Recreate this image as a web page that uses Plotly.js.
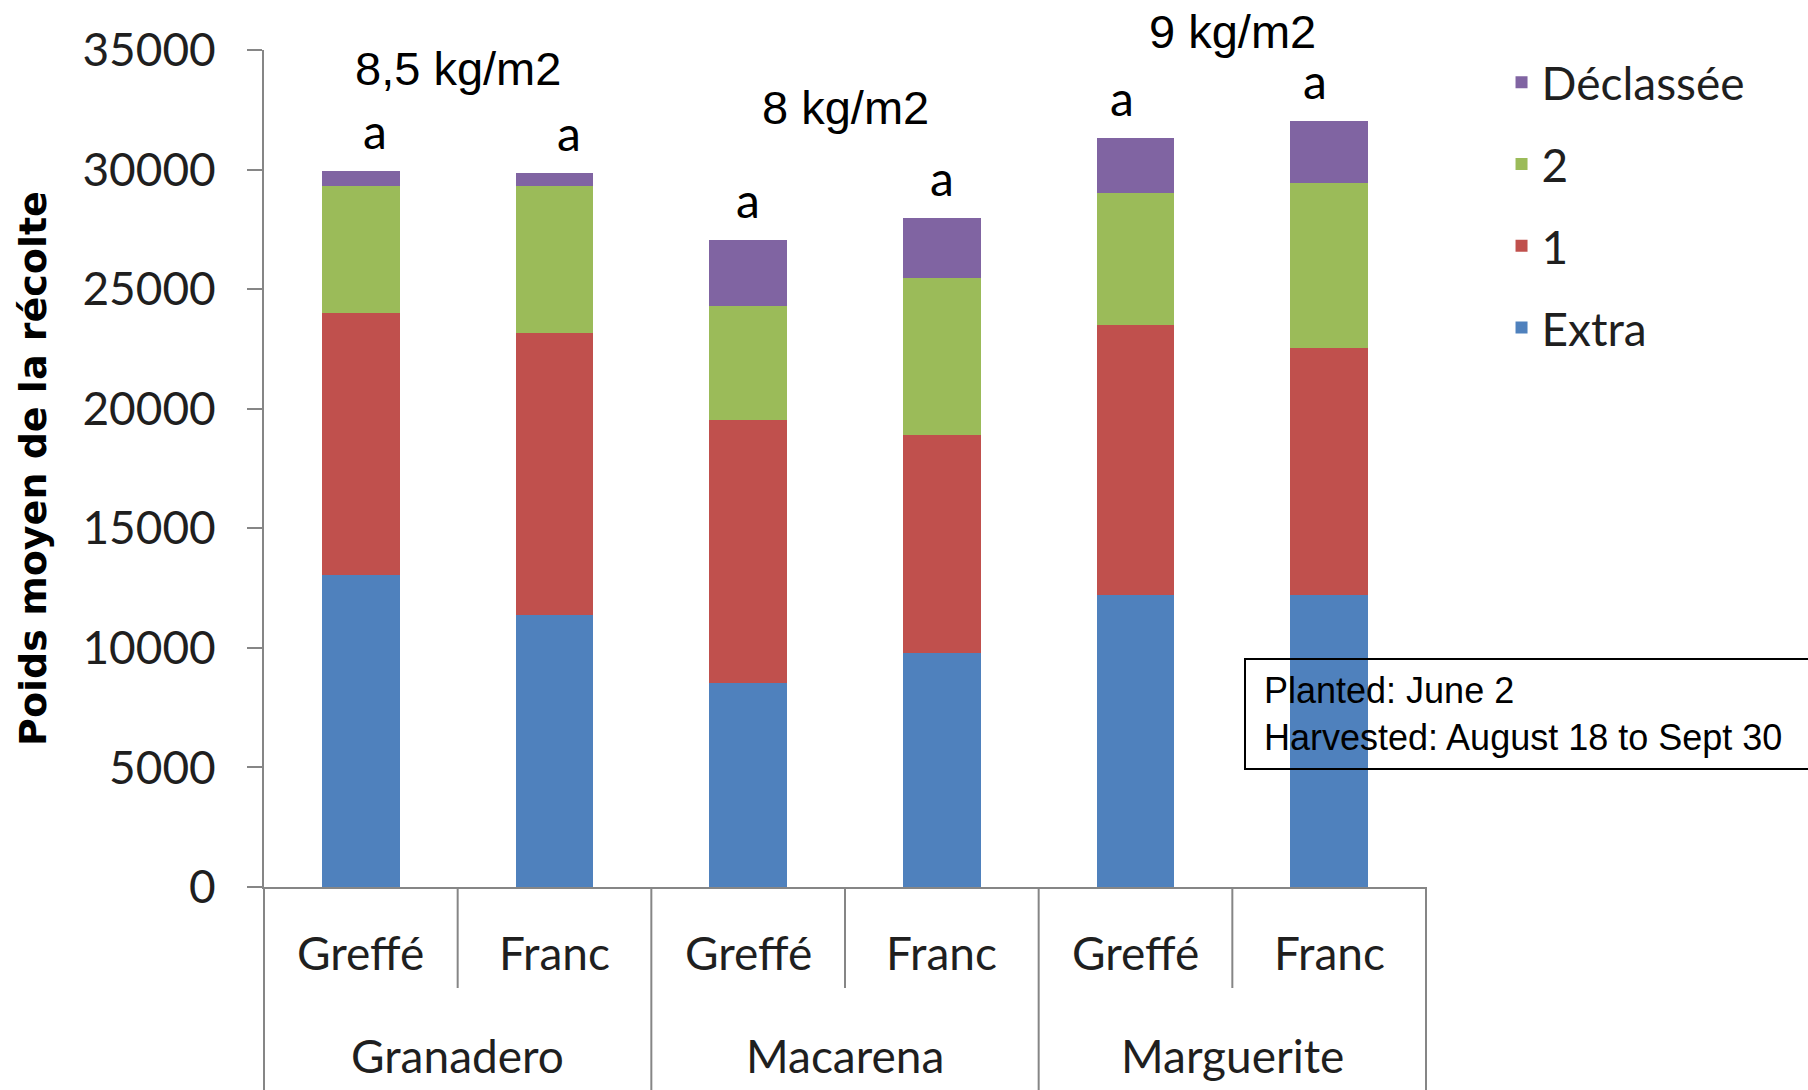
<!DOCTYPE html>
<html>
<head>
<meta charset="utf-8">
<script src="https://cdn.plot.ly/plotly-3.0.1.min.js"></script>
<style>html,body{margin:0;padding:0;background:#fff;}#chart{width:1808px;height:1090px;}</style>
</head>
<body>
<div id="chart"></div>
<script>
// ---- data ----
const groups = ["Granadero", "Granadero", "Macarena", "Macarena", "Marguerite", "Marguerite"];
const subs = ["Greffé", "Franc", "Greffé", "Franc", "Greffé", "Franc"];
const extra = [13040, 11380, 8540, 9800, 12200, 12200];
const grade1 = [10960, 11790, 10970, 9100, 11290, 10340];
const grade2 = [5330, 6160, 4800, 6570, 5540, 6900];
const declassee = [630, 530, 2730, 2490, 2280, 2580];
const letters = ["a", "a", "a", "a", "a", "a"];
const groupNames = ["Granadero", "Macarena", "Marguerite"];
const yieldLabels = ["8,5 kg/m2", "8 kg/m2", "9 kg/m2"];
const yieldLabelY = [0.978, 0.931, 1.0227];
const yTicks = [0, 5000, 10000, 15000, 20000, 25000, 30000, 35000];
const noteText = "Planted: June 2<br>Harvested: August 18 to Sept 30";

const axisFont = "Lato, Open Sans, sans-serif";
const arialFont = "Liberation Sans, Arial, sans-serif";
const gray = "#868686";
const textCol = "#1f1f1f";

const series = [
  {name: "Extra", y: extra, color: "#4F81BD", rank: 4},
  {name: "1", y: grade1, color: "#C0504D", rank: 3},
  {name: "2", y: grade2, color: "#9BBB59", rank: 2},
  {name: "Déclassée", y: declassee, color: "#8064A2", rank: 1}
];

const traces = series.map(s => ({
  type: "bar",
  name: s.name,
  legendgroup: s.name,
  legendrank: s.rank,
  x: [groups, subs],
  y: s.y,
  marker: {color: s.color, line: {width: 0}},
  hoverinfo: "skip"
}));

const totals = subs.map((_, i) => extra[i] + grade1[i] + grade2[i] + declassee[i]);
const n = subs.length;
const plotW = 1162, plotH = 837; // plot area size in px (used to place text outside the axes)

const annotations = [];
letters.forEach((t, i) => {
  annotations.push({
    xref: "paper", yref: "y", x: (i + 0.5) / n, y: totals[i],
    text: t, showarrow: false, yanchor: "bottom", yshift: 10,
    font: {family: axisFont, size: 48, color: "#000"}
  });
});
subs.forEach((t, i) => {
  annotations.push({
    xref: "paper", yref: "paper", x: (i + 0.5) / n, y: -65 / plotH,
    text: t, showarrow: false, xanchor: "center", yanchor: "middle",
    font: {family: axisFont, size: 46, color: textCol}
  });
});
groupNames.forEach((t, k) => {
  annotations.push({
    xref: "paper", yref: "paper", x: (2 * k + 1) / 6, y: -168 / plotH,
    text: t, showarrow: false, xanchor: "center", yanchor: "middle",
    font: {family: axisFont, size: 46, color: textCol}
  });
});
yieldLabels.forEach((t, k) => {
  annotations.push({
    xref: "paper", yref: "paper", x: (2 * k + 1) / 6, y: yieldLabelY[k],
    text: t, showarrow: false, xanchor: "center", yanchor: "middle",
    font: {family: arialFont, size: 47, color: "#000"}
  });
});
// note text (box drawn as a shape)
annotations.push({
  xref: "paper", yref: "paper", x: (1263 - 264) / plotW, y: (887 - 714) / plotH,
  xanchor: "left", yanchor: "middle", align: "left",
  text: noteText, showarrow: false, borderpad: 0,
  font: {family: arialFont, size: 36, color: "#000"}
});

const shapes = [];
[1, 3, 5].forEach(k => shapes.push({
  type: "line", xref: "paper", yref: "paper",
  x0: k / 6, x1: k / 6, y0: 0, y1: -101 / plotH,
  line: {color: gray, width: 2}
}));
[0, 2, 4, 6].forEach(k => shapes.push({
  type: "line", xref: "paper", yref: "paper",
  x0: k / 6, x1: k / 6, y0: 0, y1: -210 / plotH,
  line: {color: gray, width: 2}
}));
shapes.push({
  type: "rect", xref: "paper", yref: "paper",
  x0: (1245 - 264) / plotW, x1: (1830 - 264) / plotW,
  y0: (887 - 769) / plotH, y1: (887 - 659) / plotH,
  line: {color: "#000", width: 2}, fillcolor: "rgba(0,0,0,0)", layer: "above"
});

const layout = {
  width: 1808, height: 1090,
  margin: {l: 264, r: 382, t: 50, b: 203},
  paper_bgcolor: "#fff", plot_bgcolor: "#fff",
  barmode: "stack", bargap: 0.6,
  showlegend: true,
  legend: {
    x: 1.065, xanchor: "left", y: 1.005, yanchor: "top",
    traceorder: "grouped", tracegroupgap: 19,
    font: {family: axisFont, size: 46, color: textCol},
    bgcolor: "rgba(0,0,0,0)"
  },
  xaxis: {
    type: "multicategory",
    showline: true, linecolor: gray, linewidth: 2,
    ticks: "", showgrid: false, zeroline: false,
    showticklabels: false, showdividers: false
  },
  yaxis: {
    range: [0, 35000], tickvals: yTicks, ticktext: yTicks.map(String),
    showline: true, linecolor: gray, linewidth: 2,
    ticks: "outside", ticklen: 15, tickcolor: gray, tickwidth: 2,
    ticklabelstandoff: 22,
    showgrid: false, zeroline: false,
    tickfont: {family: axisFont, size: 46, color: textCol},
    title: {text: "Poids moyen de la récolte", standoff: 24,
            font: {family: "DejaVu Sans, Verdana, sans-serif", size: 38, color: "#000", weight: "bold"}}
  },
  annotations: annotations,
  shapes: shapes
};

Plotly.newPlot("chart", traces, layout, {displayModeBar: false, staticPlot: true});
</script>
</body>
</html>
